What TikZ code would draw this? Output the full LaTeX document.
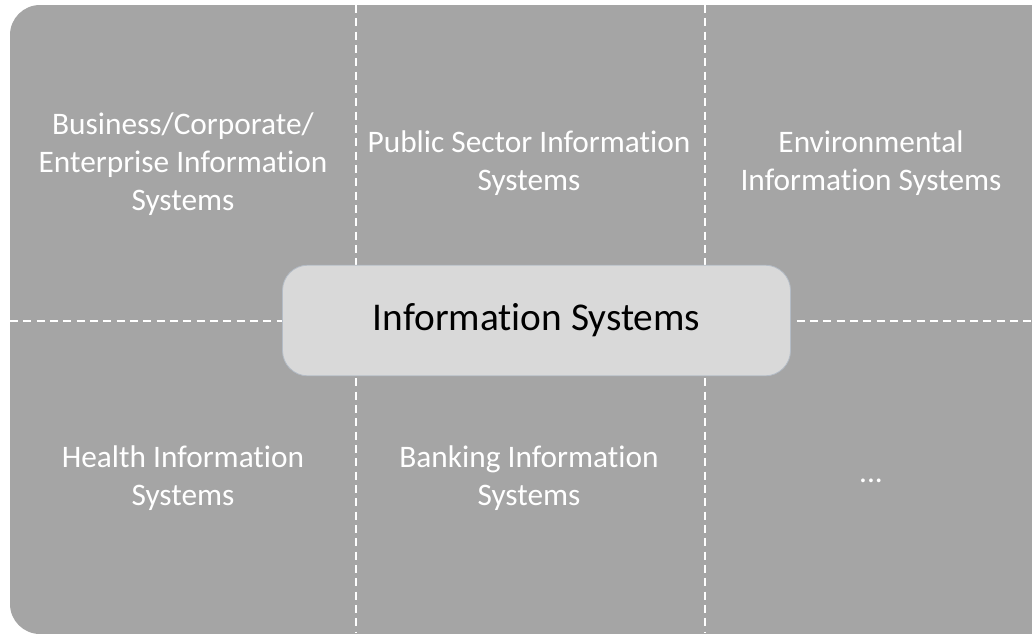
\documentclass[tikz,border=0pt]{standalone}
\usepackage{fontspec}
\setmainfont[Ligatures=NoCommon]{Carlito}
\begin{document}
\begin{tikzpicture}[x=0.75pt,y=-0.75pt,
  celltext/.style={text=white,align=center,font=\fontsize{23.5}{28.5}\selectfont,inner sep=0pt},
  divider/.style={white,line width=0.8pt,dash pattern=on 6pt off 4pt}]
\definecolor{bggray}{HTML}{A5A5A5}
\definecolor{boxgray}{HTML}{D9D9D9}
\definecolor{boxedge}{HTML}{B4BCC6}
\useasboundingbox (0,0) rectangle (1032,633);
\begin{scope}
\clip (0,0) rectangle (1032,633);
\fill[bggray,rounded corners=22.5pt] (10,5) rectangle (1060,634);
\end{scope}
\coordinate (vt1) at (356,5);
\coordinate (vb1) at (356,633);
\coordinate (vt2) at (705,5);
\coordinate (vb2) at (705,633);
\coordinate (hl) at (10,321);
\coordinate (hr) at (1032,321);
\draw[divider] (vt1) -- (vb1);
\draw[divider] (vt2) -- (vb2);
\draw[divider] (hl) -- (hr);
\node[fill=boxgray,draw=boxedge,line width=0.6pt,rounded corners=19pt,minimum width=381pt,minimum height=83pt,inner sep=0pt,font=\fontsize{29.5}{35}\selectfont] (center) at (536.5,320.5) {Information Systems};
\node[celltext] (biz) at (183,164) {Business/Corporate/\\Enterprise Information\\Systems};
\node[celltext] (pub) at (529,163) {Public Sector Information\\Systems};
\node[celltext] (env) at (871,163) {Environmental\\Information Systems};
\node[celltext] (health) at (183,478) {Health Information\\Systems};
\node[celltext] (bank) at (529,478) {Banking Information\\Systems};
\node[celltext] (more) at (871,481) {...};
\end{tikzpicture}
\end{document}
